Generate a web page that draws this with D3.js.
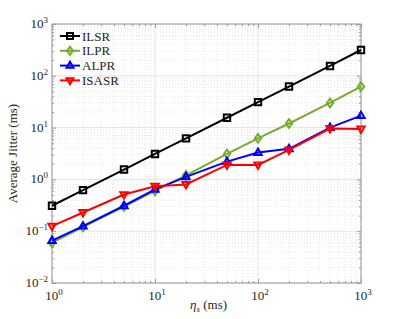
<!DOCTYPE html>
<html><head><meta charset="utf-8">
<script src="https://cdn.jsdelivr.net/npm/d3@7"></script>
<style>body{margin:0;background:#fff}svg{display:block}text{font-family:"Liberation Serif","DejaVu Serif",serif;fill:#262626}</style>
</head><body>
<script>
const xValues = [1, 2, 5, 10, 20, 50, 100, 200, 500, 1000];
const seriesNames = ["ILSR", "ILPR", "ALPR", "ISASR"];
const ilsr  = [0.31, 0.62, 1.55, 3.1, 6.2, 15.5, 31, 62, 155, 315];
const ilpr  = [0.06, 0.12, 0.3, 0.6, 1.2, 3.1, 6.2, 12, 30, 62];
const alpr  = [0.066, 0.125, 0.31, 0.64, 1.12, 2.2, 3.3, 3.9, 10, 17];
const isasr = [0.125, 0.23, 0.51, 0.74, 0.8, 1.9, 1.9, 3.7, 9.6, 9.4];
const xTickExps = [0, 1, 2, 3];
const yTickExps = [-2, -1, 0, 1, 2, 3];
const colors = ["#000000", "#77AC30", "#0000FF", "#FF0000"];
const markers = ["square", "diamond", "up", "down"];

const W = 399, H = 319;
const m = {l: 52, r: 38, t: 24, b: 36};
const svg = d3.select("body").append("svg").attr("width", W).attr("height", H);
const x = d3.scaleLog().domain([1, 1000]).range([m.l, W - m.r]);
const y = d3.scaleLog().domain([0.01, 1000]).range([H - m.b, m.t]);
const x0 = m.l, x1 = W - m.r, y0 = H - m.b, y1 = m.t;

// grid
const g = svg.append("g");
const minorX = [], minorY = [];
for (let e = 0; e < 3; e++) for (let k = 2; k <= 9; k++) minorX.push(k * Math.pow(10, e));
for (let e = -2; e < 3; e++) for (let k = 2; k <= 9; k++) minorY.push(k * Math.pow(10, e));
g.selectAll(".mgx").data(minorX).join("line").attr("x1", d => x(d)).attr("x2", d => x(d)).attr("y1", y0).attr("y2", y1)
  .attr("stroke", "#dedede").attr("stroke-width", 0.8).attr("stroke-dasharray", "1,2");
g.selectAll(".mgy").data(minorY).join("line").attr("y1", d => y(d)).attr("y2", d => y(d)).attr("x1", x0).attr("x2", x1)
  .attr("stroke", "#dedede").attr("stroke-width", 0.8).attr("stroke-dasharray", "1,2");
g.selectAll(".gx").data(xTickExps).join("line").attr("x1", d => x(Math.pow(10, d))).attr("x2", d => x(Math.pow(10, d))).attr("y1", y0).attr("y2", y1)
  .attr("stroke", "#e4e4e4").attr("stroke-width", 1);
g.selectAll(".gy").data(yTickExps).join("line").attr("y1", d => y(Math.pow(10, d))).attr("y2", d => y(Math.pow(10, d))).attr("x1", x0).attr("x2", x1)
  .attr("stroke", "#e4e4e4").attr("stroke-width", 1);

// axes box with inward ticks
const axc = "#9a9a9a";
function tickSet(axisGen, tr) {
  const a = svg.append("g").attr("transform", tr).call(axisGen);
  a.select(".domain").remove();
  a.selectAll("line").attr("stroke", axc);
  a.selectAll("text").remove();
}
const majX = xTickExps.map(e => Math.pow(10, e)), majY = yTickExps.map(e => Math.pow(10, e));
tickSet(d3.axisTop(x).tickValues(majX).tickSize(4), `translate(0,${y0})`);
tickSet(d3.axisBottom(x).tickValues(majX).tickSize(4), `translate(0,${y1})`);
tickSet(d3.axisTop(x).tickValues(minorX).tickSize(2), `translate(0,${y0})`);
tickSet(d3.axisBottom(x).tickValues(minorX).tickSize(2), `translate(0,${y1})`);
tickSet(d3.axisRight(y).tickValues(majY).tickSize(4), `translate(${x0},0)`);
tickSet(d3.axisLeft(y).tickValues(majY).tickSize(4), `translate(${x1},0)`);
tickSet(d3.axisRight(y).tickValues(minorY).tickSize(2), `translate(${x0},0)`);
tickSet(d3.axisLeft(y).tickValues(minorY).tickSize(2), `translate(${x1},0)`);
svg.append("rect").attr("x", x0).attr("y", y1).attr("width", x1 - x0).attr("height", y0 - y1)
  .attr("fill", "none").attr("stroke", axc).attr("stroke-width", 1);

// tick labels
xTickExps.forEach(e => {
  const t = svg.append("text").attr("x", x(Math.pow(10, e)) + 2).attr("y", y0 + 17).attr("text-anchor", "middle").attr("font-size", 13);
  t.append("tspan").text("10");
  t.append("tspan").attr("dy", -5).attr("font-size", 9).text(String(e).replace("-", "\u2212"));
});
yTickExps.forEach(e => {
  const t = svg.append("text").attr("x", x0 - 4).attr("y", y(Math.pow(10, e)) + 4).attr("text-anchor", "end").attr("font-size", 13);
  t.append("tspan").text("10");
  t.append("tspan").attr("dy", -5).attr("font-size", 9).text(String(e).replace("-", "\u2212"));
});

// axis labels
const xl = svg.append("text").attr("x", (x0 + x1) / 2 + 2).attr("y", 309).attr("text-anchor", "middle").attr("font-size", 13);
xl.append("tspan").attr("font-style", "italic").text("η");
xl.append("tspan").attr("font-style", "italic").attr("font-size", 9).attr("dy", 3).text("s");
xl.append("tspan").attr("dy", -3).text(" (ms)");
svg.append("text").attr("transform", `translate(17,${(y0 + y1) / 2}) rotate(-90)`).attr("text-anchor", "middle")
  .attr("font-size", 13).text("Average Jitter (ms)");

// markers
function markerPath(type, s) {
  if (type === "square") return `M${-s},${-s}H${s}V${s}H${-s}Z`;
  if (type === "diamond") return `M0,${-s * 1.35}L${s},0L0,${s * 1.35}L${-s},0Z`;
  if (type === "up") return `M0,${-s * 1.25}L${s * 1.15},${s * 0.75}L${-s * 1.15},${s * 0.75}Z`;
  return `M0,${s * 1.25}L${s * 1.15},${-s * 0.75}L${-s * 1.15},${-s * 0.75}Z`;
}
const allSeries = [ilsr, ilpr, alpr, isasr];
const line = d3.line().x(d => x(d[0])).y(d => y(d[1]));
allSeries.forEach((vals, i) => {
  const pts = xValues.map((xv, j) => [xv, vals[j]]);
  svg.append("path").datum(pts).attr("d", line).attr("fill", "none").attr("stroke", colors[i]).attr("stroke-width", 2);
  svg.selectAll(null).data(pts).join("path").attr("transform", d => `translate(${x(d[0])},${y(d[1])})`)
    .attr("d", markerPath(markers[i], 3.2)).attr("fill", "none").attr("stroke", colors[i]).attr("stroke-width", 2);
});

// legend
seriesNames.forEach((name, i) => {
  const ly = 36 + i * 14.8;
  svg.append("line").attr("x1", 60).attr("x2", 80).attr("y1", ly).attr("y2", ly).attr("stroke", colors[i]).attr("stroke-width", 2);
  svg.append("path").attr("transform", `translate(70,${ly})`).attr("d", markerPath(markers[i], 3))
    .attr("fill", "none").attr("stroke", colors[i]).attr("stroke-width", 2);
  svg.append("text").attr("x", 82).attr("y", ly + 4.5).attr("font-size", 13).text(name);
});
</script>
</body></html>
